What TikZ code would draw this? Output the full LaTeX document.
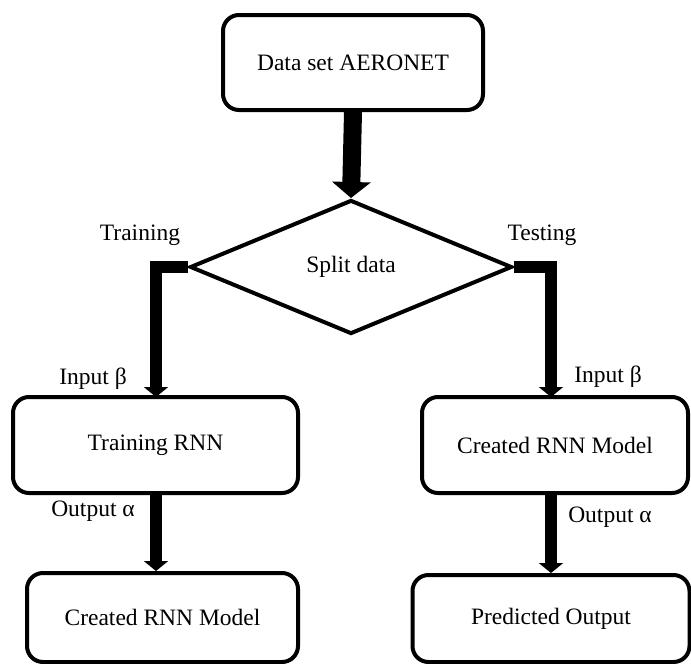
\documentclass[tikz,border=0pt]{standalone}
\usepackage{fontspec}
\setmainfont{Liberation Serif}
\usetikzlibrary{shapes.geometric,arrows.meta}
\tikzset{
  box/.style={draw=black,line width=4pt,rounded corners=16pt,fill=white,align=center,inner sep=0pt},
  split/.style={draw=black,line width=4pt,diamond,inner sep=0pt,minimum width=322pt,minimum height=134pt},
  lbl/.style={inner sep=0pt},
  bigconn/.style={line width=18pt,-{Triangle[width=38pt,length=16pt]}},
  conn/.style={line width=12pt,-{Triangle[width=24pt,length=10pt]}},
}
\begin{document}
\begin{tikzpicture}[x=1pt,y=-1pt,font=\fontsize{23.5}{27}\selectfont]
\useasboundingbox (0,0) rectangle (691,664);
\node[box,minimum width=260pt,minimum height=95pt] (top) at (353,62.5) {Data set AERONET};
\node[split] (sp) at (351,267) {Split data};
\node[box,minimum width=285pt,minimum height=96pt] (train) at (155.5,445) {Training RNN};
\node[box,minimum width=271pt,minimum height=89pt] (model1) at (162.5,617.5) {Created RNN Model};
\node[box,minimum width=266pt,minimum height=96pt] (model2) at (555,445) {Created RNN Model};
\node[box,minimum width=277pt,minimum height=87pt] (pred) at (551,618.5) {Predicted Output};
\coordinate (lin) at (156,397);
\coordinate (rin) at (551,397);
\draw[bigconn] (top.south) -- (sp.north);
\draw[conn] (sp.west) -| (lin);
\draw[conn] (sp.east) -| (rin);
\draw[conn] (train.south -| lin) -- (model1.north -| lin);
\draw[conn] (model2.south -| rin) -- (pred.north -| rin);
\node[lbl] (ltrain) at (140,235) {Training};
\node[lbl] (ltest) at (542,235) {Testing};
\node[lbl] (lin1) at (93,379) {Input β};
\node[lbl] (lin2) at (608,377) {Input β};
\node[lbl] (lout1) at (93,511) {Output α};
\node[lbl] (lout2) at (610,517) {Output α};
\end{tikzpicture}
\end{document}
